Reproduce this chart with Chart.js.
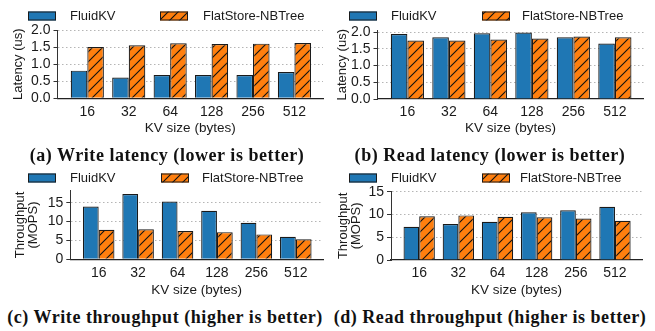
<!DOCTYPE html>
<html lang="en">
<head>
    <meta charset="utf-8">
    <title>FluidKV vs FlatStore-NBTree</title>
    <script src="https://cdn.jsdelivr.net/npm/chart.js"></script>
    <style>
        body {
            margin: 0;
            width: 655px;
            height: 331px;
            position: relative;
            overflow: hidden;
            background: #fff;
        }
        canvas {
            position: absolute;
        }
        .caption {
            position: absolute;
            width: 400px;
            height: 20px;
            line-height: 20px;
            text-align: center;
            white-space: nowrap;
            font-family: "Liberation Serif", serif;
            font-weight: bold;
            font-size: 18px;
            letter-spacing: 0.55px;
            color: #111;
        }
    </style>
</head>
<body>

<canvas id="writeLat" width="327" height="140" style="left:0;top:0"></canvas>
<canvas id="readLat" width="328" height="140" style="left:327px;top:0"></canvas>
<canvas id="writeTput" width="327" height="137" style="left:0;top:165px"></canvas>
<canvas id="readTput" width="328" height="137" style="left:327px;top:165px"></canvas>

<div class="caption" style="left:-33px;top:145px">(a) Write latency (lower is better)</div>
<div class="caption" style="left:290px;top:145px">(b) Read latency (lower is better)</div>
<div class="caption" style="left:-35px;top:307px">(c) Write throughput (higher is better)</div>
<div class="caption" style="left:290px;top:307px">(d) Read throughput (higher is better)</div>

<script>
    const kvSizes = ['16', '32', '64', '128', '256', '512']
    const seriesNames = ['FluidKV', 'FlatStore-NBTree']

    // latency in us
    const writeLatFluid = [0.81, 0.61, 0.68, 0.68, 0.68, 0.77]
    const writeLatFlat = [1.50, 1.55, 1.61, 1.59, 1.60, 1.62]
    const readLatFluid = [1.95, 1.85, 1.97, 1.99, 1.85, 1.66]
    const readLatFlat = [1.75, 1.75, 1.78, 1.81, 1.87, 1.85]

    // throughput in MOPS
    const writeTputFluid = [14.0, 17.3, 15.35, 12.9, 9.7, 6.0]
    const writeTputFlat = [7.85, 7.95, 7.5, 7.2, 6.6, 5.3]
    const readTputFluid = [7.3, 7.9, 8.4, 10.5, 10.9, 11.7]
    const readTputFlat = [9.6, 9.8, 9.5, 9.4, 9.1, 8.6]

    const blue = '#1f77b4'
    const edge = '#1a1a1a'

    Chart.defaults.font.family = '"Liberation Sans", Arial, sans-serif'
    Chart.defaults.font.size = 13
    Chart.defaults.color = '#1a1a1a'

    // orange with "/" hatch like matplotlib
    function hatch() {
        const c = document.createElement('canvas')
        c.width = 10
        c.height = 10
        const g = c.getContext('2d')
        g.fillStyle = '#ff7f0e'
        g.fillRect(0, 0, 10, 10)
        g.strokeStyle = '#111'
        g.lineWidth = 1.1
        g.beginPath()
        g.moveTo(-5, 5); g.lineTo(5, -5)
        g.moveTo(0, 10); g.lineTo(10, 0)
        g.moveTo(5, 15); g.lineTo(15, 5)
        g.stroke()
        return g.createPattern(c, 'repeat')
    }
    const orange = hatch()

    // legend drawn by hand, matplotlib spacing is wider than chart.js allows
    const patchLegend = {
        id: 'patchLegend',
        afterDraw(chart, args, opts) {
            const ctx = chart.ctx
            ctx.save()
            chart.data.datasets.forEach(function (ds, i) {
                const x = opts.x[i]
                const y = opts.y
                ctx.fillStyle = ds.backgroundColor
                ctx.fillRect(x, y - 4.5, 28, 9)
                ctx.strokeStyle = edge
                ctx.lineWidth = 1
                ctx.strokeRect(x + 0.5, y - 4, 27, 8)
                ctx.fillStyle = '#1a1a1a'
                ctx.font = '13px "Liberation Sans", Arial, sans-serif'
                ctx.textBaseline = 'middle'
                ctx.fillText(ds.label, opts.textX[i], y)
            })
            ctx.restore()
        }
    }

    function toPoints(arr) {
        return arr.map(function (v, i) { return {x: i, y: v} })
    }

    function makeChart(id, fluid, flat, o) {
        return new Chart(document.getElementById(id), {
            type: 'bar',
            data: {
                datasets: [{
                    label: seriesNames[0],
                    data: toPoints(fluid),
                    backgroundColor: blue,
                    borderColor: edge,
                    borderWidth: 1.2
                }, {
                    label: seriesNames[1],
                    data: toPoints(flat),
                    backgroundColor: orange,
                    borderColor: edge,
                    borderWidth: 1.2
                }]
            },
            options: {
                responsive: false,
                animation: false,
                devicePixelRatio: 1,
                barPercentage: 1,
                categoryPercentage: 0.8,
                layout: {padding: {left: 0, top: o.top, right: o.right, bottom: 0}},
                plugins: {
                    legend: {display: false},
                    tooltip: {enabled: false},
                    patchLegend: {x: o.legendX, textX: o.textX, y: o.legendY}
                },
                scales: {
                    x: {
                        type: 'linear',
                        offset: false,
                        min: -0.72,
                        max: 5.69,
                        grid: {display: false, drawTicks: false},
                        border: {display: true, color: '#222', width: 1.3},
                        ticks: {
                            padding: 5,
                            autoSkip: false,
                            maxRotation: 0,
                            font: {size: 14},
                            callback: function (v) { return kvSizes[v] }
                        },
                        afterBuildTicks: function (s) {
                            s.ticks = kvSizes.map(function (_, i) { return {value: i} })
                        },
                        afterFit: function (s) { s.height = o.xHeight },
                        title: {
                            display: true,
                            text: 'KV size (bytes)',
                            font: {size: 13.5},
                            padding: {top: 4, bottom: 4}
                        }
                    },
                    y: {
                        min: 0,
                        max: o.yMax,
                        grid: {
                            color: function (c) {
                                return c.tick && c.tick.value === 0 ? 'rgba(0,0,0,0)' : '#b5b5b5'
                            },
                            lineWidth: 1,
                            tickLength: 4,
                            tickColor: '#333',
                            tickWidth: 1
                        },
                        border: {display: true, color: '#333', width: 1, dash: [1.5, 2.5]},
                        ticks: {
                            stepSize: o.yStep,
                            includeBounds: false,
                            autoSkip: false,
                            padding: 3,
                            font: {size: 14},
                            callback: function (v) { return v.toFixed(o.decimals) }
                        },
                        afterFit: function (s) { s.width = o.yWidth },
                        title: {
                            display: true,
                            text: o.yTitle,
                            font: {size: 13, lineHeight: o.yTitleLH},
                            padding: {top: o.yTitlePad, bottom: 0}
                        }
                    }
                }
            },
            plugins: [patchLegend]
        })
    }

    makeChart('writeLat', writeLatFluid, writeLatFlat, {
        top: 30, right: 4, yWidth: 57.5, xHeight: 41.7,
        yMax: 2, yStep: 0.5, decimals: 1,
        yTitle: 'Latency (us)', yTitleLH: 1.2, yTitlePad: 11,
        legendX: [28, 160], textX: [70, 203], legendY: 16
    })

    makeChart('readLat', readLatFluid, readLatFlat, {
        top: 30.6, right: 11.5, yWidth: 50.5, xHeight: 41,
        yMax: 2.05, yStep: 0.5, decimals: 1,
        yTitle: 'Latency (us)', yTitleLH: 1.2, yTitlePad: 7.7,
        legendX: [22, 155], textX: [64, 195], legendY: 16
    })

    makeChart('writeTput', writeTputFluid, writeTputFlat, {
        top: 25.7, right: 4, yWidth: 70.3, xHeight: 42.7,
        yMax: 18.2, yStep: 5, decimals: 0,
        yTitle: ['Throughput', '(MOPS)'], yTitleLH: 1, yTitlePad: 13.5,
        legendX: [28, 161], textX: [70, 202], legendY: 13
    })

    makeChart('readTput', readTputFluid, readTputFlat, {
        top: 26.7, right: 13, yWidth: 64, xHeight: 42,
        yMax: 15, yStep: 5, decimals: 0,
        yTitle: ['Throughput', '(MOPS)'], yTitleLH: 1, yTitlePad: 9.5,
        legendX: [22, 155], textX: [64, 193], legendY: 13
    })
</script>

</body>
</html>
